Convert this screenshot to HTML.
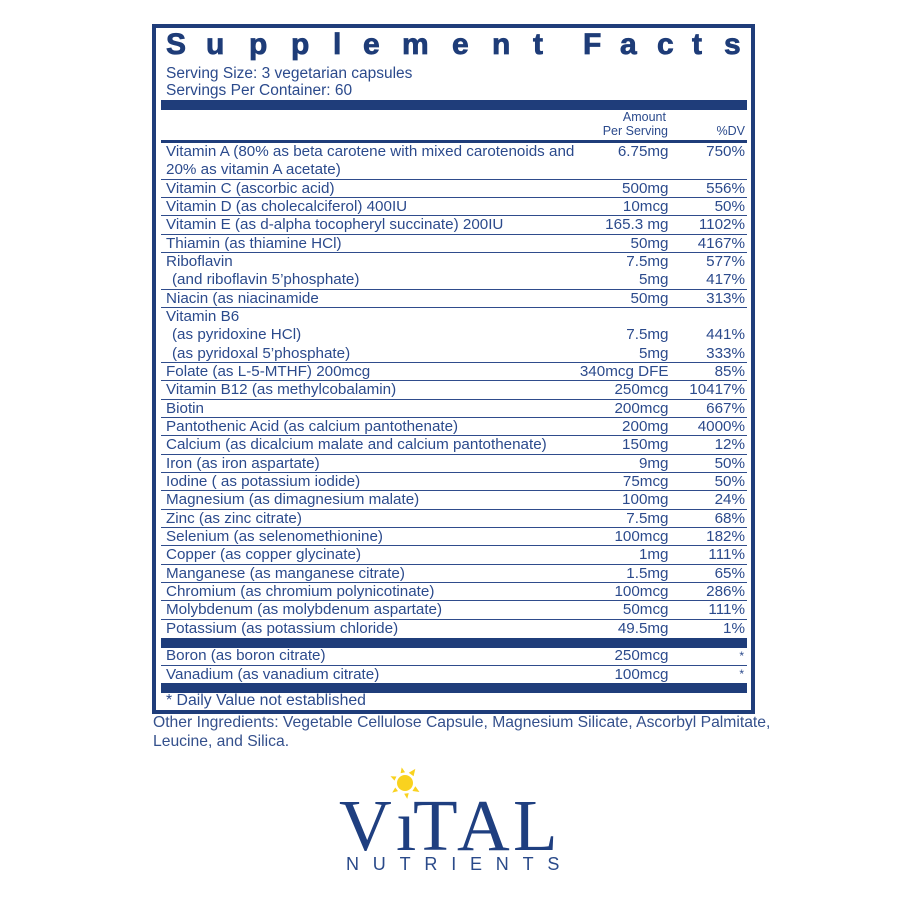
<!DOCTYPE html>
<html>
<head>
<meta charset="utf-8">
<style>
html,body{margin:0;padding:0;background:#fff;}
body{width:900px;height:900px;position:relative;overflow:hidden;font-family:"Liberation Sans",Arial,sans-serif;color:#2b4a8c;}
.abs{position:absolute;white-space:nowrap;}
.box{position:absolute;left:152px;top:24px;width:603px;height:690px;border:4px solid #1f3d7a;box-sizing:border-box;}
.bar{position:absolute;left:161px;width:586px;background:#1f3d7a;}
.title span{position:absolute;top:29.5px;font-size:30px;line-height:30px;font-weight:bold;color:#1e3c78;-webkit-text-stroke:0.8px #1e3c78;}
.rows{position:absolute;left:161px;top:143px;width:586px;}
.row{border-bottom:1px solid #2f4c8c;box-sizing:border-box;}
.row.nb{border-bottom:none;}
.ln{position:relative;height:18.33px;line-height:18.33px;font-size:15.2px;}
.ln .n{position:absolute;left:5px;top:0;white-space:nowrap;}
.ln .n.ind{left:11px;}
.ln .a{position:absolute;right:78.5px;top:0;white-space:nowrap;}
.ln .d{position:absolute;right:2px;top:0;white-space:nowrap;}
.r1{height:18.33px;}
.r2{height:36.66px;}
.r3{height:55px;}
.hdr{font-size:12.5px;line-height:14px;}
.body15{font-size:15.5px;line-height:17px;}
</style>
</head>
<body>

<div class="box"></div>

<div class="title">
<span style="left:166px">S</span>
<span style="left:206px">u</span>
<span style="left:249px">p</span>
<span style="left:291px">p</span>
<span style="left:333px">l</span>
<span style="left:363px">e</span>
<span style="left:402px">m</span>
<span style="left:452px">e</span>
<span style="left:492px">n</span>
<span style="left:533px">t</span>
<span style="left:583px">F</span>
<span style="left:620px">a</span>
<span style="left:657px">c</span>
<span style="left:692px">t</span>
<span style="left:724px">s</span>
</div>

<div class="abs body15" style="left:166px;top:64.5px;">Serving Size: 3 vegetarian capsules</div>
<div class="abs body15" style="left:166px;top:81.5px;">Servings Per Container: 60</div>

<div class="bar" style="top:100px;height:10px;"></div>

<div class="abs hdr" style="right:234px;top:110px;">Amount</div>
<div class="abs hdr" style="right:232px;top:124px;">Per Serving</div>
<div class="abs hdr" style="right:155px;top:124px;">%DV</div>

<div class="bar" style="top:140px;height:3px;"></div>

<div class="rows">
  <div class="row r2">
    <div class="ln"><span class="n">Vitamin A (80% as beta carotene with mixed carotenoids and</span><span class="a">6.75mg</span><span class="d">750%</span></div>
    <div class="ln"><span class="n">20% as vitamin A acetate)</span></div>
  </div>
  <div class="row r1"><div class="ln"><span class="n">Vitamin C (ascorbic acid)</span><span class="a">500mg</span><span class="d">556%</span></div></div>
  <div class="row r1"><div class="ln"><span class="n">Vitamin D (as cholecalciferol) 400IU</span><span class="a">10mcg</span><span class="d">50%</span></div></div>
  <div class="row r1"><div class="ln"><span class="n">Vitamin E (as d-alpha tocopheryl succinate) 200IU</span><span class="a">165.3 mg</span><span class="d">1102%</span></div></div>
  <div class="row r1"><div class="ln"><span class="n">Thiamin (as thiamine HCl)</span><span class="a">50mg</span><span class="d">4167%</span></div></div>
  <div class="row r2">
    <div class="ln"><span class="n">Riboflavin</span><span class="a">7.5mg</span><span class="d">577%</span></div>
    <div class="ln"><span class="n ind">(and riboflavin 5’phosphate)</span><span class="a">5mg</span><span class="d">417%</span></div>
  </div>
  <div class="row r1"><div class="ln"><span class="n">Niacin (as niacinamide</span><span class="a">50mg</span><span class="d">313%</span></div></div>
  <div class="row r3">
    <div class="ln"><span class="n">Vitamin B6</span></div>
    <div class="ln"><span class="n ind">(as pyridoxine HCl)</span><span class="a">7.5mg</span><span class="d">441%</span></div>
    <div class="ln"><span class="n ind">(as pyridoxal 5’phosphate)</span><span class="a">5mg</span><span class="d">333%</span></div>
  </div>
  <div class="row r1"><div class="ln"><span class="n">Folate (as L-5-MTHF) 200mcg</span><span class="a">340mcg DFE</span><span class="d">85%</span></div></div>
  <div class="row r1"><div class="ln"><span class="n">Vitamin B12 (as methylcobalamin)</span><span class="a">250mcg</span><span class="d">10417%</span></div></div>
  <div class="row r1"><div class="ln"><span class="n">Biotin</span><span class="a">200mcg</span><span class="d">667%</span></div></div>
  <div class="row r1"><div class="ln"><span class="n">Pantothenic Acid (as calcium pantothenate)</span><span class="a">200mg</span><span class="d">4000%</span></div></div>
  <div class="row r1"><div class="ln"><span class="n">Calcium (as dicalcium malate and calcium pantothenate)</span><span class="a">150mg</span><span class="d">12%</span></div></div>
  <div class="row r1"><div class="ln"><span class="n">Iron (as iron aspartate)</span><span class="a">9mg</span><span class="d">50%</span></div></div>
  <div class="row r1"><div class="ln"><span class="n">Iodine ( as potassium iodide)</span><span class="a">75mcg</span><span class="d">50%</span></div></div>
  <div class="row r1"><div class="ln"><span class="n">Magnesium (as dimagnesium malate)</span><span class="a">100mg</span><span class="d">24%</span></div></div>
  <div class="row r1"><div class="ln"><span class="n">Zinc (as zinc citrate)</span><span class="a">7.5mg</span><span class="d">68%</span></div></div>
  <div class="row r1"><div class="ln"><span class="n">Selenium (as selenomethionine)</span><span class="a">100mcg</span><span class="d">182%</span></div></div>
  <div class="row r1"><div class="ln"><span class="n">Copper (as copper glycinate)</span><span class="a">1mg</span><span class="d">111%</span></div></div>
  <div class="row r1"><div class="ln"><span class="n">Manganese (as manganese citrate)</span><span class="a">1.5mg</span><span class="d">65%</span></div></div>
  <div class="row r1"><div class="ln"><span class="n">Chromium (as chromium polynicotinate)</span><span class="a">100mcg</span><span class="d">286%</span></div></div>
  <div class="row r1"><div class="ln"><span class="n">Molybdenum (as molybdenum aspartate)</span><span class="a">50mcg</span><span class="d">111%</span></div></div>
  <div class="row r1 nb"><div class="ln"><span class="n">Potassium (as potassium chloride)</span><span class="a">49.5mg</span><span class="d">1%</span></div></div>
</div>

<div class="bar" style="top:638px;height:10px;"></div>

<div class="rows" style="top:648px;">
  <div class="row" style="height:17.5px;"><div class="ln" style="height:16.5px;line-height:16.5px;"><span class="n">Boron (as boron citrate)</span><span class="a">250mcg</span><span class="d" style="right:3px;font-size:12px;">*</span></div></div>
  <div class="row nb" style="height:17.5px;"><div class="ln" style="height:17.5px;line-height:17.5px;"><span class="n">Vanadium (as vanadium citrate)</span><span class="a">100mcg</span><span class="d" style="right:3px;font-size:12px;">*</span></div></div>
</div>

<div class="bar" style="top:683px;height:10px;"></div>

<div class="abs" style="left:166px;top:691.5px;font-size:15.8px;line-height:17px;">* Daily Value not established</div>

<div class="abs" style="left:153px;top:713px;font-size:15.7px;line-height:19px;color:#34508c;">Other Ingredients: Vegetable Cellulose Capsule, Magnesium Silicate, Ascorbyl Palmitate,</div>
<div class="abs" style="left:153px;top:732px;font-size:15.7px;line-height:19px;color:#34508c;">Leucine, and Silica.</div>

<!-- Logo -->
<svg class="abs" style="left:0;top:0;" width="900" height="900">
  <circle cx="405" cy="783" r="8" fill="#f9d21f"/>
  <g fill="#f9d21f">
    <polygon points="0,-3 7,0 0,3" transform="translate(405 783) rotate(-54) translate(10.5 0)"/>
    <polygon points="0,-2.3 5.5,0 0,2.3" transform="translate(405 783) rotate(-102) translate(10.5 0)"/>
    <polygon points="0,-2.3 5.5,0 0,2.3" transform="translate(405 783) rotate(-155) translate(10.5 0)"/>
    <polygon points="0,-2.3 5.5,0 0,2.3" transform="translate(405 783) rotate(143) translate(10.5 0)"/>
    <polygon points="0,-2.3 5.5,0 0,2.3" transform="translate(405 783) rotate(82) translate(10.5 0)"/>
    <polygon points="0,-2.8 6.5,0 0,2.8" transform="translate(405 783) rotate(32) translate(10.5 0)"/>
  </g>
</svg>

<div class="abs" style="left:339px;top:789px;font-family:'Liberation Serif','Times New Roman',serif;font-size:73px;line-height:73px;color:#1f3f80;">V</div>
<div class="abs" style="left:396px;top:789px;font-family:'Liberation Serif','Times New Roman',serif;font-size:73px;line-height:73px;color:#1f3f80;">ı</div>
<div class="abs" style="left:413px;top:789px;font-family:'Liberation Serif','Times New Roman',serif;font-size:73px;line-height:73px;color:#1f3f80;">T</div>
<div class="abs" style="left:457px;top:789px;font-family:'Liberation Serif','Times New Roman',serif;font-size:73px;line-height:73px;color:#1f3f80;">A</div>
<div class="abs" style="left:513px;top:789px;font-family:'Liberation Serif','Times New Roman',serif;font-size:73px;line-height:73px;color:#1f3f80;">L</div>

<div class="abs" style="left:346px;top:855px;font-size:18px;line-height:18px;letter-spacing:13.8px;color:#2a4a8a;">NUTRIENTS</div>

</body>
</html>
